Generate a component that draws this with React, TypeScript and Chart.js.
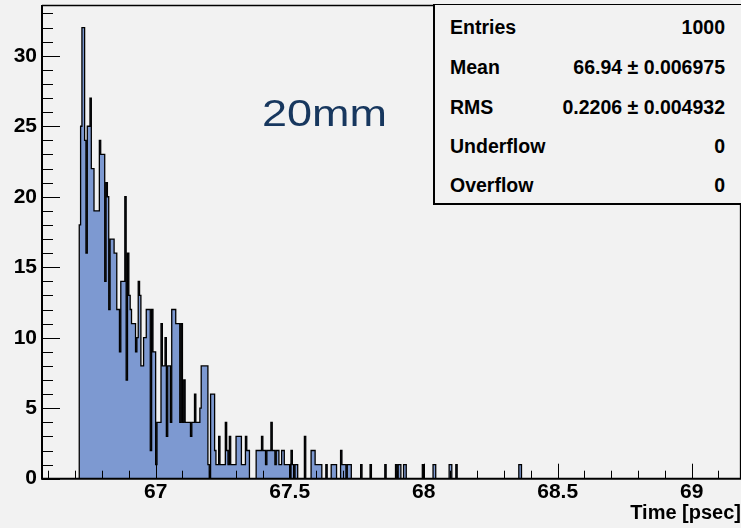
import React, { useEffect, useRef } from "react";
import { Chart, registerables } from "chart.js";

Chart.register(...registerables);

// ---- data ----
const BIN_START = 66.715;
const BIN_WIDTH = 0.005;

// counts per bin from BIN_START, dense part
const headCounts = [
  18, 25, 32, 32, 24, 16, 25, 25, 27, 22,
  22, 19, 19, 19, 19, 24, 23, 23, 23, 14,
  21, 20, 12, 17, 17, 17, 16, 16, 12, 12,
  9, 14, 14, 14, 20, 7, 16, 13, 12, 11,
  11, 11, 9, 10, 14, 13, 8, 8, 10, 10,
  12, 12, 12, 2, 12, 9, 9, 1, 4, 4,
  4, 11, 8, 8, 10, 3, 8, 8, 4, 12,
  12, 12, 11, 11, 11, 4, 11, 4, 7, 4,
  4, 4, 4, 3, 4, 4, 6, 4, 4, 4,
  5, 8, 8, 8, 8, 8, 1, 0, 6, 6,
  6, 2, 1, 1, 3, 1, 1, 1, 1, 4,
  2, 1, 3, 1, 1, 1, 1, 3, 3, 3,
  3, 1, 1, 1, 3, 2, 2, 0, 0, 0,
  0, 0, 2, 2, 2, 2, 3, 2, 2, 1,
  2, 2, 2, 4, 2, 2, 1, 2, 2, 1,
  1, 2, 2, 1, 1, 1, 1, 0, 2, 1,
  0, 1, 1, 0, 0, 0, 0, 0, 3, 0,
  0, 0, 0, 2, 2, 2, 1, 1, 1, 1,
  1, 0, 0, 0, 1, 0, 0, 0, 1, 1,
  1, 1, 0, 0, 0, 2, 1, 1, 1, 0,
  1, 1, 1,
];

// sparse tail: bin low edges and counts
const tailTimes = [67.765, 67.8, 67.855, 67.895, 67.905, 67.91, 67.925, 67.93, 67.995, 68.035, 68.04, 68.095, 68.1, 68.12, 68.355, 68.36];
const tailCounts = [1, 1, 1, 1, 1, 1, 1, 1, 1, 1, 1, 1, 1, 1, 1, 1];

const xTickValues = [67, 67.5, 68, 68.5, 69];
const yTickValues = [0, 5, 10, 15, 20, 25, 30];
const X_MIN = 66.576;
const X_MAX = 69.184;
const Y_MAX = 33.6;

const statsLabels = ["Entries", "Mean", "RMS", "Underflow", "Overflow"];
const statsValues = ["1000", "66.94 \u00b1 0.006975", "0.2206 \u00b1 0.004932", "0", "0"];
const annotationText = "20mm";
const xTitle = "Time [psec]";

// ---- build histogram outline points ----
function buildPoints() {
  let nBins = headCounts.length;
  tailTimes.forEach((t) => {
    const idx = Math.round((t - BIN_START) / BIN_WIDTH);
    if (idx + 1 > nBins) nBins = idx + 1;
  });
  const counts: number[] = new Array(nBins).fill(0);
  headCounts.forEach((c, i) => (counts[i] = c));
  tailTimes.forEach((t, k) => {
    const idx = Math.round((t - BIN_START) / BIN_WIDTH);
    counts[idx] += tailCounts[k];
  });
  const pts = [{ x: BIN_START, y: 0 }];
  counts.forEach((c, i) => pts.push({ x: BIN_START + i * BIN_WIDTH, y: c }));
  pts.push({ x: BIN_START + nBins * BIN_WIDTH, y: 0 });
  return pts;
}

const FONT = "'Liberation Sans', Arial, Helvetica, sans-serif";

const rootFrame = {
  id: "rootFrame",
  afterDatasetsDraw(chart: any) {
    const { ctx, chartArea: a, scales } = chart;
    const x = scales.x;
    const y = scales.y;
    ctx.save();
    ctx.strokeStyle = "#000";
    ctx.lineWidth = 1;
    // x ticks (inward)
    for (let k = Math.ceil(X_MIN * 10); k <= Math.floor(X_MAX * 10); k++) {
      const v = k / 10;
      const major = k % 5 === 0;
      const px = Math.round(x.getPixelForValue(v)) + 0.5;
      ctx.beginPath();
      ctx.moveTo(px, a.bottom);
      ctx.lineTo(px, a.bottom - (major ? 15 : 8));
      ctx.stroke();
    }
    // y ticks (inward)
    for (let v = 0; v <= Math.floor(Y_MAX); v++) {
      const major = v % 5 === 0;
      const py = Math.round(y.getPixelForValue(v)) + 0.5;
      ctx.beginPath();
      ctx.moveTo(a.left, py);
      ctx.lineTo(a.left + (major ? 18 : 11), py);
      ctx.stroke();
    }
    // frame
    ctx.lineWidth = 1.3;
    ctx.beginPath();
    ctx.moveTo(a.left, a.top + 0.5);
    ctx.lineTo(a.right, a.top + 0.5);
    ctx.moveTo(a.right - 0.5, a.top);
    ctx.lineTo(a.right - 0.5, a.bottom);
    ctx.stroke();
    ctx.lineWidth = 2;
    ctx.beginPath();
    ctx.moveTo(a.left, a.top);
    ctx.lineTo(a.left, a.bottom + 1);
    ctx.moveTo(a.left - 1, a.bottom);
    ctx.lineTo(a.right, a.bottom);
    ctx.stroke();
    ctx.restore();
  },
};

export default function App() {
  const ref = useRef<HTMLCanvasElement | null>(null);

  useEffect(() => {
    if (!ref.current) return;
    const chart = new Chart(ref.current, {
      type: "line",
      data: {
        datasets: [
          {
            data: buildPoints(),
            stepped: "before",
            fill: "origin",
            backgroundColor: "#7d99d1",
            borderColor: "#000",
            borderWidth: 1.3,
            pointRadius: 0,
            tension: 0,
          },
        ],
      },
      options: {
        responsive: false,
        animation: false,
        devicePixelRatio: 1,
        layout: { padding: { top: 5, left: 0, right: 0, bottom: 0 } },
        plugins: { legend: { display: false }, tooltip: { enabled: false } },
        scales: {
          x: {
            type: "linear",
            min: X_MIN,
            max: X_MAX,
            grid: { display: false, drawTicks: false },
            border: { display: false },
            afterBuildTicks: (s: any) => {
              s.ticks = xTickValues.map((v) => ({ value: v }));
            },
            afterFit: (s: any) => {
              s.height = 49.3;
              s.paddingLeft = 0;
              s.paddingRight = 0;
              s.paddingTop = 0;
              s.paddingBottom = 0;
            },
            ticks: {
              color: "#000",
              padding: 1,
              maxRotation: 0,
              autoSkip: false,
              font: { family: FONT, weight: "bold", size: 21 },
              callback: (v: any) => String(v),
            },
            title: {
              display: true,
              text: xTitle,
              align: "end",
              color: "#000",
              font: { family: FONT, weight: "bold", size: 20 },
              padding: { top: 0, bottom: 3 },
            },
          },
          y: {
            type: "linear",
            min: 0,
            max: Y_MAX,
            grid: { display: false, drawTicks: false },
            border: { display: false },
            afterBuildTicks: (s: any) => {
              s.ticks = yTickValues.map((v) => ({ value: v }));
            },
            afterFit: (s: any) => {
              s.width = 42;
              s.paddingTop = 0;
              s.paddingBottom = 0;
              s.paddingLeft = 0;
              s.paddingRight = 0;
            },
            ticks: {
              color: "#000",
              padding: 5,
              font: { family: FONT, weight: "bold", size: 21 },
              callback: (v: any) => String(v),
            },
          },
        },
      },
      plugins: [rootFrame],
    } as any);
    return () => chart.destroy();
  }, []);

  const rowCenters = [27, 67, 106.7, 145.7, 184.5];

  return (
    <div
      style={{
        position: "fixed",
        left: 0,
        top: 0,
        width: 741,
        height: 528,
        background: "#f2f2f2",
        overflow: "hidden",
      }}
    >
      <canvas ref={ref} width={741} height={528} style={{ position: "absolute", left: 0, top: 0 }} />
      <div
        style={{
          position: "absolute",
          left: 433,
          top: 4,
          width: 320,
          height: 201,
          boxSizing: "border-box",
          borderLeft: "2px solid #000",
          borderBottom: "2px solid #000",
          borderTop: "1.5px solid #000",
          background: "#f2f2f2",
        }}
      />
      {statsLabels.map((lab, i) => (
        <React.Fragment key={lab}>
          <div
            style={{
              position: "absolute",
              left: 450,
              top: rowCenters[i] - 9.8,
              font: `bold 19.5px ${FONT}`,
              lineHeight: "20px",
              color: "#000",
              whiteSpace: "nowrap",
            }}
          >
            {lab}
          </div>
          <div
            style={{
              position: "absolute",
              right: 16,
              top: rowCenters[i] - 9.8,
              font: `bold 19.5px ${FONT}`,
              lineHeight: "20px",
              color: "#000",
              whiteSpace: "nowrap",
              textAlign: "right",
            }}
          >
            {statsValues[i]}
          </div>
        </React.Fragment>
      ))}
      <div
        style={{
          position: "absolute",
          left: 262,
          top: 96.2,
          font: `36px ${FONT}`,
          lineHeight: "36px",
          color: "#17375e",
          whiteSpace: "nowrap",
          transform: "scaleX(1.25)",
          transformOrigin: "left top",
        }}
      >
        {annotationText}
      </div>
    </div>
  );
}
